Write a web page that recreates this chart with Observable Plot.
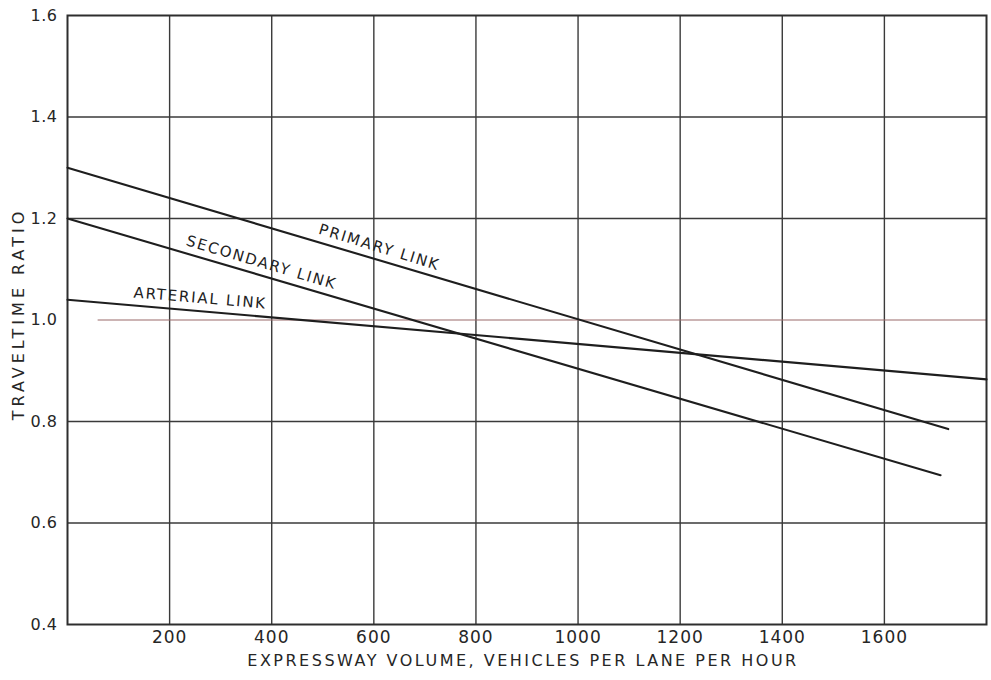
<!DOCTYPE html>
<html>
<head>
<meta charset="utf-8">
<script src="https://cdn.jsdelivr.net/npm/d3@7"></script>
<script src="https://cdn.jsdelivr.net/npm/@observablehq/plot@0.6"></script>
<style>
  html, body { margin: 0; padding: 0; background: #fff; }
  #chart svg { display: block; }
  .link-name text { letter-spacing: 1.8px; }
  .tick-x text { letter-spacing: 1px; }
  .tick-y text { letter-spacing: 0.5px; }
  .title-x text { letter-spacing: 2.5px; }
  .title-y text { letter-spacing: 4px; }
</style>
</head>
<body>
<div id="chart"></div>
<script>
// Travel-time ratio versus expressway volume, one straight line per link type
const series = ["PRIMARY LINK", "SECONDARY LINK", "ARTERIAL LINK"];
const startVolume = [0, 0, 0];
const startRatio = [1.30, 1.20, 1.04];
const endVolume = [1725, 1710, 1800];
const endRatio = [0.785, 0.694, 0.883];

// where each line's name sits along it (volume), and the tilt of the lettering
const labelVolume = [611, 380, 260];
const labelAngle = [17, 16.5, 4.8];

const xTicks = [200, 400, 600, 800, 1000, 1200, 1400, 1600];
const yTicks = [0.4, 0.6, 0.8, 1.0, 1.2, 1.4, 1.6];
const xGrid = [200, 400, 600, 800, 1000, 1200, 1400, 1600];
const yGrid = [0.6, 0.8, 1.2, 1.4];
const unityRatio = [1.0];

const lines = series.flatMap((name, i) => [
  {name, volume: startVolume[i], ratio: startRatio[i]},
  {name, volume: endVolume[i], ratio: endRatio[i]}
]);

const labels = series.map((name, i) => {
  const t = (labelVolume[i] - startVolume[i]) / (endVolume[i] - startVolume[i]);
  return {
    name,
    volume: labelVolume[i],
    ratio: startRatio[i] + t * (endRatio[i] - startRatio[i]),
    angle: labelAngle[i]
  };
});

const font = "DejaVu Sans, sans-serif";
const ink = "#262626";

const chart = Plot.plot({
  width: 991,
  height: 680,
  marginLeft: 67,
  marginRight: 5,
  marginTop: 15,
  marginBottom: 56,
  style: {fontFamily: font, background: "#fff", color: ink},
  x: {domain: [0, 1800]},
  y: {domain: [0.4, 1.6]},
  marks: [
    Plot.ruleX(xGrid, {stroke: "#3a3a3a", strokeWidth: 1.4}),
    Plot.ruleY(yGrid, {stroke: "#3a3a3a", strokeWidth: 1.4}),
    Plot.ruleY(unityRatio, {x1: 60, x2: 1800, stroke: "#9a6a6a", strokeWidth: 1.1}),
    Plot.frame({stroke: "#2e2e2e", strokeWidth: 2}),
    Plot.line(lines, {x: "volume", y: "ratio", z: "name", stroke: "#1e1e1e", strokeWidth: 2.1}),
    ...labels.map(d => Plot.text([d], {
      x: "volume", y: "ratio", text: "name",
      rotate: d.angle, dy: -13,
      fontSize: 15, fill: "#222",
      className: "link-name"
    })),
    Plot.axisX({
      ticks: xTicks, tickSize: 0, tickPadding: 6, label: null,
      tickFormat: d => String(d),
      fontSize: 17, fill: ink, className: "tick-x"
    }),
    Plot.axisY({
      ticks: yTicks, tickSize: 0, tickPadding: 10, label: null,
      tickFormat: d => d.toFixed(1), fontSize: 16, fill: ink, className: "tick-y"
    }),
    Plot.text(["EXPRESSWAY VOLUME, VEHICLES PER LANE PER HOUR"], {
      frameAnchor: "bottom", dx: -4, dy: 41, fontSize: 16, fill: ink,
      className: "title-x"
    }),
    Plot.text(["TRAVELTIME RATIO"], {
      frameAnchor: "left", textAnchor: "middle", dx: -49, dy: -6, rotate: -90,
      fontSize: 16, fill: ink, className: "title-y"
    })
  ]
});

document.getElementById("chart").appendChild(chart);
</script>
</body>
</html>
